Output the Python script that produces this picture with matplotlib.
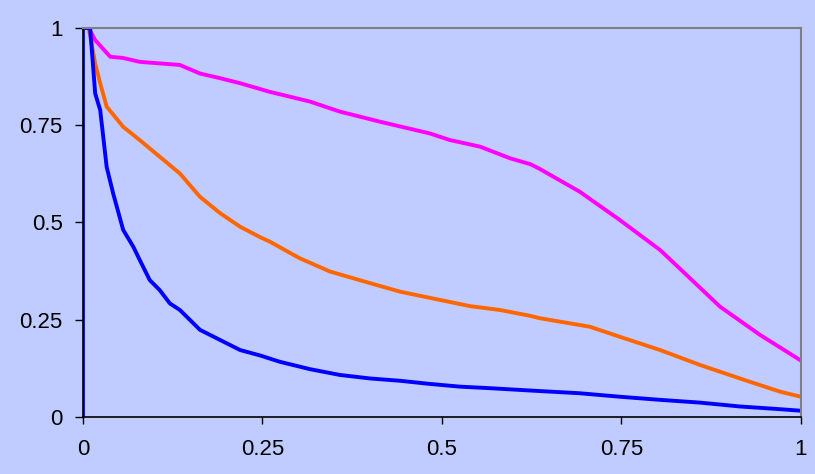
import matplotlib.pyplot as plt

# three decreasing curves on the unit square
x_magenta = [0.008, 0.017, 0.038, 0.056, 0.079, 0.107, 0.135, 0.163, 0.191, 0.219,
             0.247, 0.260, 0.316, 0.358, 0.414, 0.483, 0.511, 0.553, 0.595, 0.623,
             0.636, 0.692, 0.748, 0.804, 0.831, 0.887, 0.943, 1.0]
y_magenta = [1.0, 0.969, 0.926, 0.923, 0.913, 0.909, 0.905, 0.883, 0.871, 0.858,
             0.843, 0.836, 0.811, 0.785, 0.759, 0.729, 0.712, 0.695, 0.665, 0.650,
             0.638, 0.579, 0.506, 0.429, 0.382, 0.284, 0.211, 0.145]

x_orange = [0.008, 0.017, 0.024, 0.033, 0.056, 0.079, 0.107, 0.135, 0.163, 0.191,
            0.219, 0.247, 0.260, 0.302, 0.344, 0.400, 0.442, 0.497, 0.539, 0.581,
            0.623, 0.636, 0.706, 0.748, 0.804, 0.859, 0.915, 0.971, 1.0]
y_orange = [1.0, 0.909, 0.858, 0.798, 0.746, 0.712, 0.669, 0.626, 0.566, 0.524,
            0.489, 0.462, 0.451, 0.408, 0.374, 0.344, 0.322, 0.301, 0.285, 0.275,
            0.260, 0.254, 0.232, 0.206, 0.172, 0.134, 0.099, 0.065, 0.052]

x_blue = [0.0, 0.0, 0.01, 0.017, 0.024, 0.033, 0.042, 0.056, 0.070, 0.079, 0.093,
          0.107, 0.121, 0.135, 0.163, 0.191, 0.219, 0.247, 0.274, 0.316, 0.358,
          0.400, 0.442, 0.483, 0.525, 0.567, 0.623, 0.692, 0.748, 0.804, 0.859,
          0.915, 0.971, 1.0]
y_blue = [0.0, 1.0, 1.0, 0.832, 0.789, 0.643, 0.575, 0.481, 0.438, 0.404, 0.352,
          0.326, 0.292, 0.275, 0.224, 0.198, 0.172, 0.158, 0.142, 0.123, 0.108,
          0.099, 0.093, 0.085, 0.078, 0.074, 0.068, 0.061, 0.052, 0.044, 0.037,
          0.027, 0.020, 0.016]

ticks = [0, 0.25, 0.5, 0.75, 1]
tick_labels = ["0", "0.25", "0.5", "0.75", "1"]

bg = "#C0CCFF"
plt.rcParams["font.family"] = ["Liberation Sans", "DejaVu Sans"]

fig = plt.figure(figsize=(8.15, 4.74), dpi=100, facecolor=bg)
ax = fig.add_axes([0.1018, 0.1203, 0.881, 0.8206], facecolor=bg)

ax.plot(x_magenta, y_magenta, color="#FF00FF", lw=2.8)
ax.plot(x_orange, y_orange, color="#FF6600", lw=2.8)
ax.plot(x_blue, y_blue, color="#0000FF", lw=2.8)

ax.set_xlim(0, 1)
ax.set_ylim(0, 1)
ax.set_xticks(ticks)
ax.set_xticklabels(tick_labels)
ax.set_yticks(ticks)
ax.set_yticklabels(tick_labels)
ax.tick_params(axis="x", direction="out", length=5, width=1, pad=10.5, labelsize=16)
ax.tick_params(axis="y", direction="out", length=6, width=1, pad=8.5, labelsize=16)

for side in ("top", "right"):
    ax.spines[side].set_color("#808080")
    ax.spines[side].set_linewidth(1.5)
for side in ("bottom", "left"):
    ax.spines[side].set_color("black")
    ax.spines[side].set_linewidth(1.2)

fig.savefig("out.png", dpi=100, facecolor=bg)
